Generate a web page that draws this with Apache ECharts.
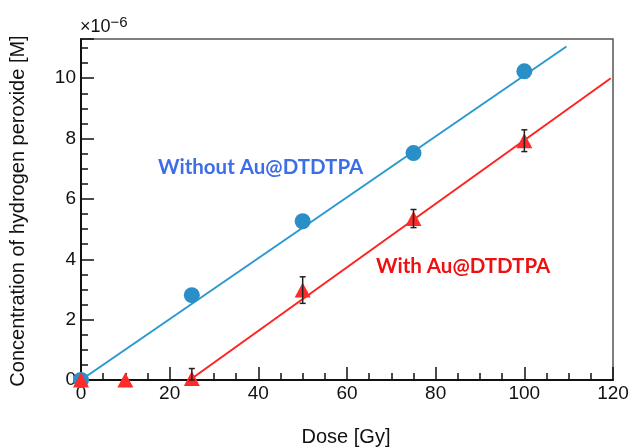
<!DOCTYPE html>
<html>
<head>
<meta charset="utf-8">
<script src="https://cdn.jsdelivr.net/npm/echarts@6/dist/echarts.min.js"></script>
<style>
html,body{margin:0;padding:0;background:#fff;}
#chart{width:633px;height:448px;}
</style>
</head>
<body>
<div id="chart"></div>
<script>
// ---- data ----
const doseBlue = [0, 25, 50, 75, 100];
const concBlue = [0, 2.81, 5.26, 7.52, 10.23];
const doseRed = [0, 10, 25, 50, 75, 100];
const concRed = [0, 0, 0.05, 2.98, 5.35, 7.93];
const errRed = [0, 0, 0.33, 0.44, 0.3, 0.36];
const fitBlueX = [0, 109.5];
const fitBlueY = [0, 11.05];
const fitRedX = [25, 119.5];
const fitRedY = [0.05, 10.0];
const xTicks = [0, 20, 40, 60, 80, 100, 120];
const yTicks = [0, 2, 4, 6, 8, 10];
const labelBlue = 'Without Au@DTDTPA';
const labelRed = 'With Au@DTDTPA';
const xTitle = 'Dose [Gy]';
const yTitle = 'Concentration of hydrogen peroxide [M]';

const zip = (a, b) => a.map((v, i) => [v, b[i]]);
const FONT = '"Liberation Sans", Arial, sans-serif';

const chart = echarts.init(document.getElementById('chart'));
const option = {
  animation: false,
  backgroundColor: '#fff',
  grid: { left: 81, top: 39, right: 20, bottom: 68, show: true, borderColor: '#555', borderWidth: 1.5, backgroundColor: 'transparent' },
  xAxis: {
    type: 'value', min: xTicks[0], max: xTicks[xTicks.length - 1], interval: 20,
    axisLine: { lineStyle: { color: '#111', width: 2 } },
    axisTick: { inside: true, length: 13, lineStyle: { color: '#111', width: 1.5 } },
    minorTick: { show: true, splitNumber: 4, length: 7, lineStyle: { color: '#111', width: 1.5 } },
    splitLine: { show: false },
    axisLabel: { fontFamily: FONT, fontSize: 19, color: '#111', margin: 4 }
  },
  yAxis: [{
    type: 'value', min: 0, max: 11.3, interval: 2, position: 'left',
    axisLine: { lineStyle: { color: '#111', width: 2 } },
    axisTick: { inside: true, length: 13, lineStyle: { color: '#111', width: 1.5 } },
    splitLine: { show: false },
    axisLabel: { fontFamily: FONT, fontSize: 19, color: '#111', margin: 5,
      formatter: v => (yTicks.indexOf(v) >= 0 ? String(v) : '') }
  }, {
    type: 'value', min: 0, max: 11.3, interval: 0.5, position: 'left',
    axisLine: { show: false },
    axisTick: { inside: true, length: 7, lineStyle: { color: '#111', width: 1.5 } },
    splitLine: { show: false },
    axisLabel: { show: false }
  }],
  graphic: [
    { type: 'text', left: 80, top: 15, style: { rich: {
        a: { fontFamily: FONT, fontSize: 18, fill: '#111' },
        b: { fontFamily: FONT, fontSize: 15, fill: '#111', verticalAlign: 'top', padding: [0,0,9,0] } },
        text: '{a|×10}{b|−6}' } },
    { type: 'text', x: 18, y: 211, rotation: Math.PI / 2,
      style: { text: yTitle, fontFamily: FONT, fontSize: 20, fill: '#111', align: 'center', verticalAlign: 'middle' } },
    { type: 'text', x: 346, y: 437,
      style: { text: xTitle, fontFamily: FONT, fontSize: 20, fill: '#111', align: 'center', verticalAlign: 'middle' } },
    { type: 'text', x: 158, y: 167,
      style: { text: labelBlue, fontFamily: 'Lato, "Open Sans", sans-serif', fontWeight: 'bold', fontSize: 20.5, fill: '#3c6ee6', align: 'left', verticalAlign: 'middle' } },
    { type: 'text', x: 376, y: 266,
      style: { text: labelRed, fontFamily: 'Lato, "Open Sans", sans-serif', fontWeight: 'bold', fontSize: 20.5, fill: '#ee1111', align: 'left', verticalAlign: 'middle' } }
  ],
  series: [
    { type: 'line', data: zip(fitBlueX, fitBlueY), showSymbol: false, symbol: 'none',
      lineStyle: { color: '#2b99d1', width: 2 }, z: 2, clip: false },
    { type: 'line', data: zip(fitRedX, fitRedY), showSymbol: false, symbol: 'none',
      lineStyle: { color: '#ff2222', width: 2 }, z: 2, clip: false },
    { type: 'scatter', data: zip(doseBlue, concBlue), symbol: 'circle', symbolSize: 16,
      itemStyle: { color: '#2a8fc7', opacity: 1 }, z: 3, clip: false },
    { type: 'scatter', data: zip(doseRed, concRed), symbol: 'triangle', symbolSize: [16, 15],
      itemStyle: { color: '#ff2a2a', opacity: 1 }, z: 4, clip: false },
    { type: 'custom', z: 5, clip: false,
      data: doseRed.map((d, i) => [d, concRed[i], errRed[i]]).filter(r => r[2] > 0),
      renderItem: function (params, api) {
        const x = api.value(0), y = api.value(1), e = api.value(2);
        const top = api.coord([x, y + e]);
        const bot = api.coord([x, Math.max(0, y - e)]);
        const cw = 3;
        const style = { stroke: '#222', lineWidth: 1.5 };
        return { type: 'group', children: [
          { type: 'line', shape: { x1: top[0], y1: top[1], x2: bot[0], y2: bot[1] }, style },
          { type: 'line', shape: { x1: top[0] - cw, y1: top[1], x2: top[0] + cw, y2: top[1] }, style },
          { type: 'line', shape: { x1: bot[0] - cw, y1: bot[1], x2: bot[0] + cw, y2: bot[1] }, style }
        ] };
      }
    }
  ]
};
chart.setOption(option);
</script>
</body>
</html>
